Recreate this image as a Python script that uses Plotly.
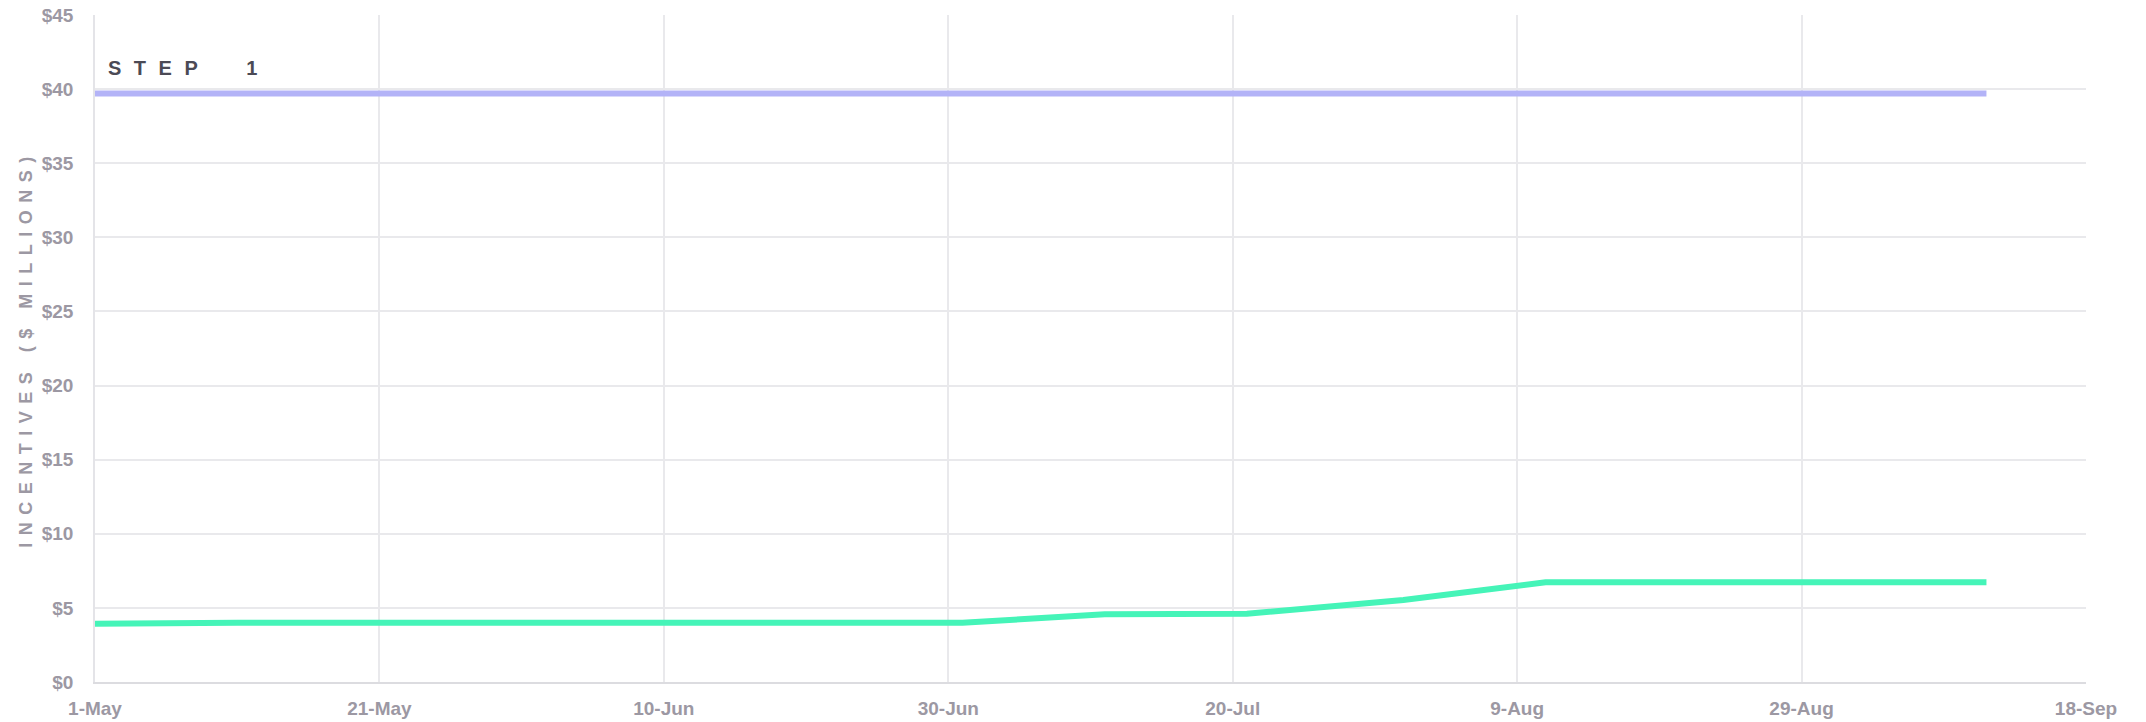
import plotly.graph_objects as go

# ---- data ----
step1_dates = ["2023-05-01", "2023-09-11"]
step1_values = [39.7, 39.7]

earned_dates = ["2023-05-01", "2023-05-10", "2023-05-11", "2023-07-01", "2023-07-11",
                "2023-07-21", "2023-08-01", "2023-08-11", "2023-09-11"]
earned_values = [3.93, 3.95, 4.0, 4.0, 4.57, 4.6, 5.53, 6.73, 6.73]

x_tick_vals = ["2023-05-01", "2023-05-21", "2023-06-10", "2023-06-30",
               "2023-07-20", "2023-08-09", "2023-08-29", "2023-09-18"]
x_tick_text = ["1-May", "21-May", "10-Jun", "30-Jun", "20-Jul", "9-Aug", "29-Aug", "18-Sep"]
y_tick_vals = [0, 5, 10, 15, 20, 25, 30, 35, 40, 45]
y_tick_text = ["$" + str(v) for v in y_tick_vals]

FONT = "Arial, 'Liberation Sans', Helvetica, sans-serif"
LABEL = "#9c98a3"

fig = go.Figure()
fig.add_trace(go.Scatter(x=step1_dates, y=step1_values, mode="lines",
                         line=dict(color="#b3b3f7", width=6), hoverinfo="skip",
                         showlegend=False))
fig.add_trace(go.Scatter(x=earned_dates, y=earned_values, mode="lines",
                         line=dict(color="#45f4b8", width=6), hoverinfo="skip",
                         showlegend=False))

fig.add_annotation(text='<span style="letter-spacing:12.5px">STEP\u00a0\u00a01</span>',
                   xref="paper", yref="paper", x=0.0474, y=0.92,
                   xanchor="center", yanchor="middle", showarrow=False,
                   font=dict(family=FONT, size=20, color="#4b4a55", weight="bold"))

fig.update_layout(
    width=2146, height=722,
    margin=dict(l=95, r=60, t=15, b=40),
    plot_bgcolor="white", paper_bgcolor="white",
    font=dict(family=FONT),
    xaxis=dict(type="date", range=["2023-05-01", "2023-09-18"],
               tickvals=x_tick_vals, ticktext=x_tick_text, automargin=False,
               showgrid=True, gridcolor="#e9e9ec", gridwidth=1.5,
               showline=True, linecolor="#dcdce0", linewidth=2,
               zeroline=False, ticks="", ticklabelstandoff=8,
               tickfont=dict(family=FONT, size=19, color=LABEL, weight="bold")),
    yaxis=dict(range=[0, 45], tickvals=y_tick_vals, ticktext=y_tick_text,
               automargin=False,
               showgrid=True, gridcolor="#e9e9ec", gridwidth=1.5,
               showline=True, linecolor="#e4e4e8", linewidth=1.5,
               zeroline=False, ticks="", ticklabelstandoff=16,
               tickfont=dict(family=FONT, size=19, color=LABEL, weight="bold"),
               title=dict(text='<span style="letter-spacing:7.5px">INCENTIVES ($ MILLIONS)</span>',
                          standoff=4,
                          font=dict(family=FONT, size=18, color=LABEL, weight="bold"))),
)

fig.write_html("out.html", config={"displayModeBar": False},
               post_script="document.body.style.margin='0';document.body.style.padding='0';"
                           "document.body.style.overflow='hidden';")
